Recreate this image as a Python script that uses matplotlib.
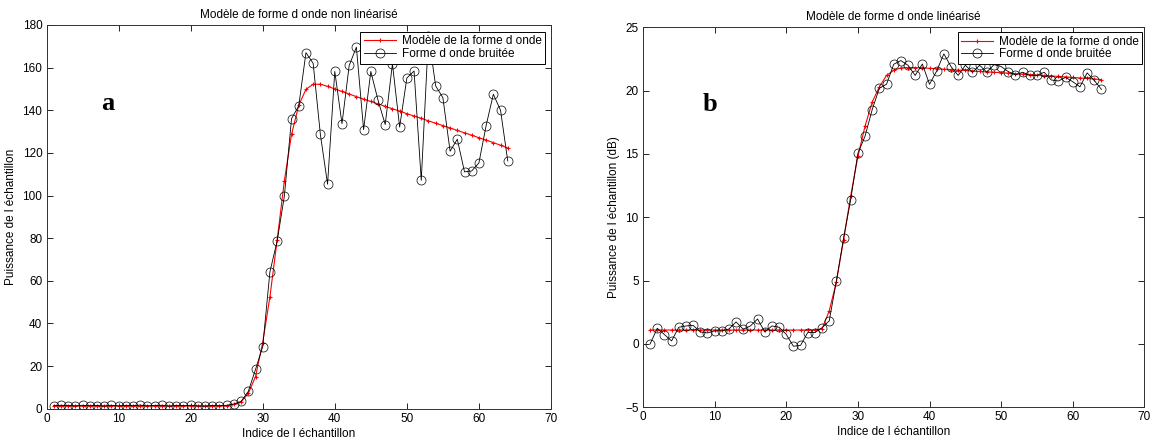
#coding:utf8

import numpy as np
import matplotlib
matplotlib.use("Agg")
import matplotlib.pyplot as plt

plt.rcParams["font.family"] = ["Liberation Sans", "DejaVu Sans"]

#Indices des échantillons
indices = list(range(1, 65))

#Graphe a : puissance (non linéarisé)
bruit_lin = [1.4, 1.6, 1.5, 1.3, 1.6, 1.4, 1.5, 1.2, 1.6, 1.3,
             1.5, 1.4, 1.7, 1.3, 1.5, 1.6, 1.2, 1.5, 1.4, 1.6,
             1.3, 1.2, 1.5, 1.4, 1.6, 2.2, 3.4, 8.1, 18.4, 29.1,
             64.2, 78.6, 99.6, 136.1, 142.0, 167.0, 162.0, 128.7, 105.3, 158.2,
             133.7, 161.0, 169.6, 130.9, 158.2, 144.7, 133.3, 161.8, 132.1, 155.1,
             158.4, 107.1, 175.0, 151.4, 145.9, 120.8, 126.4, 111.1, 111.5, 115.3,
             132.8, 147.5, 140.0, 116.2]
modele_lin = [1.3, 1.3, 1.3, 1.3, 1.3, 1.3, 1.3, 1.3, 1.3, 1.3,
              1.3, 1.3, 1.3, 1.3, 1.3, 1.3, 1.3, 1.3, 1.3, 1.3,
              1.3, 1.3, 1.3, 1.3, 1.3, 2.0, 3.2, 7.2, 15.0, 31.0,
              52.5, 79.0, 106.8, 128.7, 142.3, 149.8, 152.2, 152.2, 151.2, 150.0,
              148.8, 147.6, 146.4, 145.2, 144.1, 143.0, 141.8, 140.7, 139.6, 138.4,
              137.3, 136.2, 135.0, 133.9, 132.8, 131.7, 130.5, 129.4, 128.3, 127.1,
              126.0, 124.8, 123.6, 122.3]

#Graphe b : puissance en dB (linéarisé)
bruit_db = [0.0, 1.24, 0.74, 0.24, 1.32, 1.42, 1.47, 0.95, 0.87, 1.03,
            1.03, 1.18, 1.74, 1.16, 1.42, 1.97, 0.95, 1.42, 1.32, 0.76,
            -0.18, -0.11, 0.9, 0.9, 1.28, 1.82, 4.97, 8.34, 11.4, 15.05,
            16.4, 18.5, 20.2, 20.5, 22.08, 22.37, 22.0, 21.2, 22.1, 20.5,
            21.55, 22.9, 21.9, 21.2, 22.0, 21.45, 22.0, 21.45, 22.05, 21.9,
            21.5, 21.24, 21.45, 21.2, 21.2, 21.45, 20.84, 20.76, 21.05, 20.7,
            20.3, 21.4, 20.8, 20.1]
modele_db = [1.1, 1.1, 1.1, 1.1, 1.1, 1.1, 1.1, 1.1, 1.1, 1.1,
             1.1, 1.1, 1.1, 1.1, 1.1, 1.1, 1.1, 1.1, 1.1, 1.1,
             1.1, 1.1, 1.1, 1.1, 1.2, 2.6, 4.9, 8.2, 11.7, 14.8,
             17.2, 19.1, 20.3, 21.2, 21.6, 21.8, 21.82, 21.82, 21.8, 21.76,
             21.73, 21.69, 21.66, 21.62, 21.59, 21.55, 21.51, 21.48, 21.45, 21.41,
             21.38, 21.34, 21.30, 21.27, 21.23, 21.19, 21.16, 21.12, 21.08, 21.04,
             21.00, 20.96, 20.92, 20.87]

legende = ["Modèle de la forme d onde", "Forme d onde bruitée"]


#Fonction pour tracer un graphe dans le style matlab
def tracer(ax, bruit, modele, titre, ylabel, ylim, yticks, lettre, pos_lettre, pos_leg):
    ax.plot(indices, modele, color="#ff0000", marker="+", markersize=3, linewidth=0.8,
            markeredgewidth=0.8, label=legende[0])
    ax.plot(indices, bruit, color="black", marker="o", markersize=6.5, linewidth=0.6,
            markerfacecolor="none", markeredgewidth=0.5, label=legende[1])
    ax.set_xlim(0, 70)
    ax.set_ylim(ylim)
    ax.set_xticks(range(0, 71, 10))
    ax.set_yticks(yticks)
    ax.tick_params(direction="in", length=4, width=0.6, labelsize=8.5, top=True, right=True, pad=3)
    for s in ax.spines.values():
        s.set_linewidth(0.7)
        s.set_color("#303030")
    ax.set_title(titre, fontsize=8.5, pad=5)
    ax.set_xlabel("Indice de l échantillon", fontsize=8.5, labelpad=2)
    ax.set_ylabel(ylabel, fontsize=8.5, labelpad=4)
    ax.text(pos_lettre[0], pos_lettre[1], lettre, fontsize=19, fontweight="bold",
            family="Liberation Serif", ha="center", va="center")
    leg = ax.legend(loc="upper right", bbox_to_anchor=pos_leg, fontsize=8.5, numpoints=1,
                    fancybox=False, framealpha=1, edgecolor="black", borderpad=0.3,
                    labelspacing=0.05, handlelength=2.7, handletextpad=0.5, borderaxespad=0)
    leg.get_frame().set_linewidth(0.7)


fig = plt.figure(figsize=(11.51, 4.38), dpi=100)
ax1 = fig.add_axes([0.0404, 0.0669, 0.4383, 0.8761])
ax2 = fig.add_axes([0.5586, 0.0701, 0.4357, 0.8676])

tracer(ax1, bruit_lin, modele_lin, "Modèle de forme d onde non linéarisé",
       "Puissance de l échantillon", (0, 180), range(0, 181, 20), "a", (8.5, 143), (0.988, 0.982))
tracer(ax2, bruit_db, modele_db, "Modèle de forme d onde linéarisé",
       "Puissance de l échantillon (dB)", (-5, 25), range(-5, 26, 5), "b", (9.4, 18.9), (0.996, 0.987))

plt.savefig("out.png", dpi=100)
plt.close()
